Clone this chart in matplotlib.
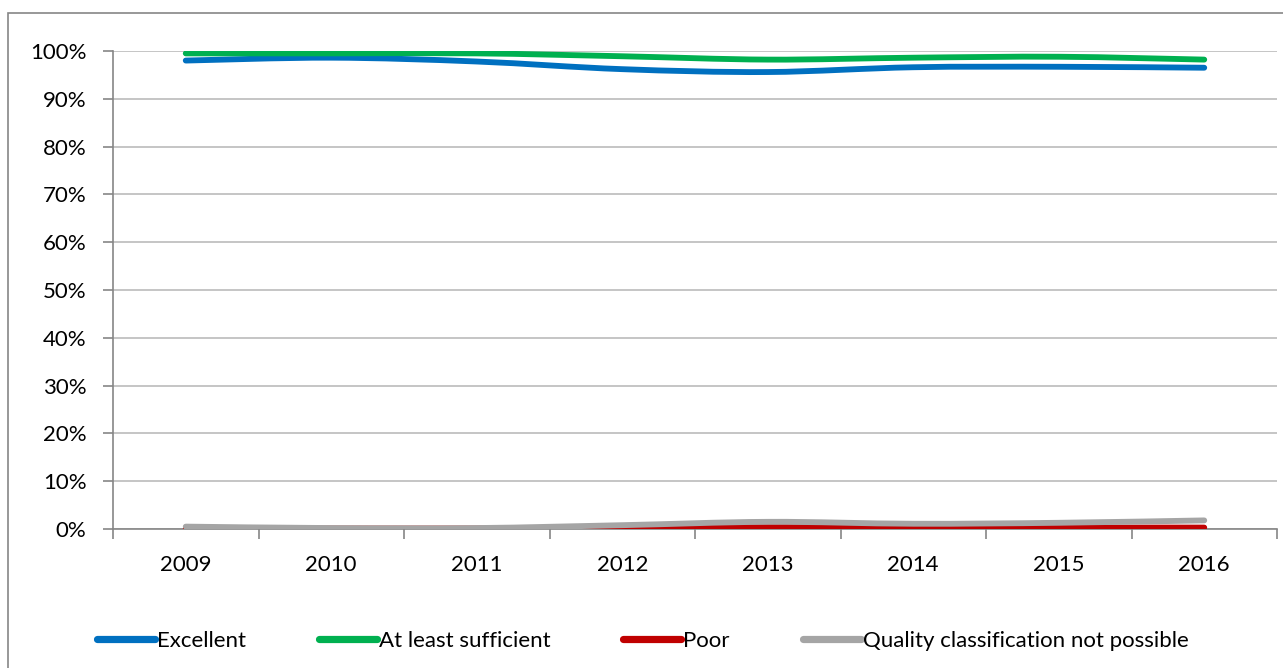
import numpy as np
import matplotlib
matplotlib.use('Agg')
import matplotlib.pyplot as plt
from matplotlib.path import Path
from matplotlib.patches import PathPatch, Rectangle
from matplotlib.lines import Line2D
from matplotlib.ticker import FixedLocator, PercentFormatter

# data (shares, in %)
years = ['2009', '2010', '2011', '2012', '2013', '2014', '2015', '2016']
excellent = [98.0, 98.6, 97.8, 96.2, 95.6, 96.6, 96.7, 96.5]
sufficient = [99.5, 99.5, 99.5, 98.9, 98.2, 98.6, 98.8, 98.2]
poor = [0.1, 0.1, 0.1, 0.2, 0.4, 0.3, 0.3, 0.3]
not_possible = [0.5, 0.2, 0.2, 0.8, 1.5, 1.1, 1.3, 1.8]

series_names = ['Excellent', 'At least sufficient', 'Poor',
                'Quality classification not possible']
series_values = [excellent, sufficient, poor, not_possible]
colors = ['#0070C0', '#00B050', '#C00000', '#A5A5A5']

plt.rcParams['font.family'] = ['Lato', 'DejaVu Sans']

W, H = 1283, 668
fig = plt.figure(figsize=(W / 100, H / 100), dpi=100)

# chart frame (right and bottom edges fall outside the picture)
fig.patches.append(Rectangle((8 / W, -0.1), 1.2, (H - 13) / H + 0.1,
                             transform=fig.transFigure, fill=False,
                             edgecolor='#868686', lw=1.2))

ax = fig.add_axes([113 / W, 139 / H, (1277 - 113) / W, (529 - 51) / H])


def smooth_path(xs, ys):
    # Excel-like smoothed line: cubic bezier through every point
    pts = np.column_stack([xs, ys]).astype(float)
    verts = [pts[0]]
    codes = [Path.MOVETO]
    n = len(pts)
    for i in range(n - 1):
        p0 = pts[max(i - 1, 0)]
        p1 = pts[i]
        p2 = pts[i + 1]
        p3 = pts[min(i + 2, n - 1)]
        c1 = p1 + (p2 - p0) / 6.0
        c2 = p2 - (p3 - p1) / 6.0
        verts += [c1, c2, p2]
        codes += [Path.CURVE4] * 3
    return Path(verts, codes)


x = np.arange(len(years))
for vals, col in zip(series_values, colors):
    patch = PathPatch(smooth_path(x, vals), facecolor='none', edgecolor=col,
                      lw=4.2, capstyle='round', joinstyle='round', zorder=3)
    ax.add_patch(patch)

ax.set_xlim(-0.5, len(years) - 0.5)
ax.set_ylim(0, 100)
ax.set_yticks(np.arange(0, 101, 10))
ax.yaxis.set_major_formatter(PercentFormatter(100, decimals=0))
ax.grid(axis='y', color='#C0C0C0', lw=1.3, zorder=0)
ax.set_axisbelow(True)

ax.set_xticks(x)
ax.set_xticklabels(years)
ax.xaxis.set_minor_locator(FixedLocator(np.arange(-0.5, len(years), 1.0)))
ax.tick_params(axis='x', which='major', length=0, pad=19, labelsize=16)
ax.tick_params(axis='x', which='minor', length=7, width=1.2, color='#868686')
ax.tick_params(axis='y', length=7, width=1.2, color='#868686', pad=12,
               labelsize=16)

for side in ['top', 'right']:
    ax.spines[side].set_visible(False)
for side in ['left', 'bottom']:
    ax.spines[side].set_color('#868686')
    ax.spines[side].set_linewidth(1.2)

# legend drawn by hand to keep Excel's fixed slots
leg_x = [97, 319, 623, 803]
leg_y = 1 - 639 / H
for lx, name, col in zip(leg_x, series_names, colors):
    fig.add_artist(Line2D([lx / W, (lx + 58) / W], [leg_y, leg_y],
                          transform=fig.transFigure, color=col, lw=5.2,
                          solid_capstyle='round'))
    fig.text((lx + 60) / W, leg_y, name, ha='left', va='center_baseline',
             fontsize=16)

fig.savefig('out.png', dpi=100)
